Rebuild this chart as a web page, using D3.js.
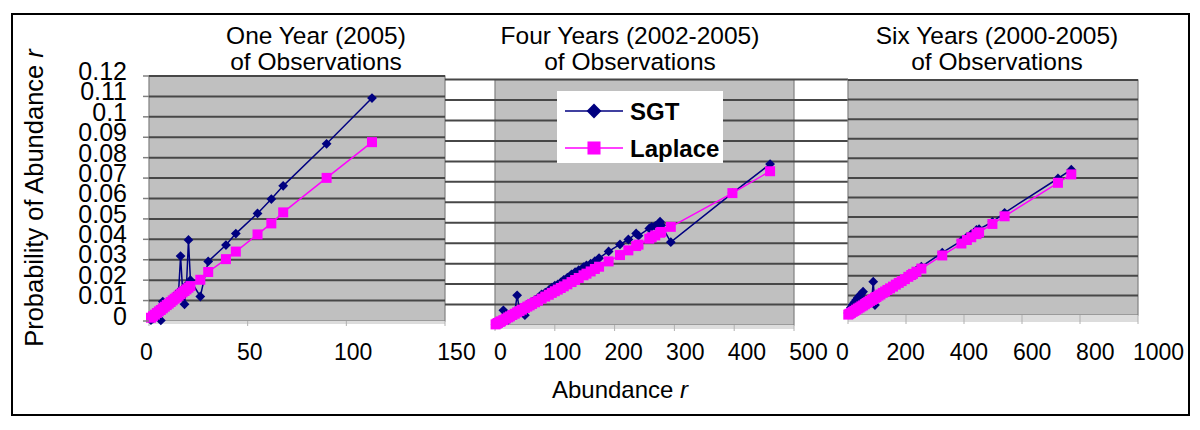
<!DOCTYPE html>
<html><head><meta charset="utf-8">
<script src="https://cdn.jsdelivr.net/npm/d3@7"></script>
<style>
html,body{margin:0;padding:0;background:#fff;}
svg{display:block;font-family:"Liberation Sans",Arial,Helvetica,sans-serif;}
</style></head><body>
<svg id="chart" width="1200" height="430"></svg>
<script>
// ---------------- data ----------------
const panelTitles1 = ["One Year (2005)", "Four Years (2002-2005)", "Six Years (2000-2005)"];
const panelTitles2 = ["of Observations", "of Observations", "of Observations"];
const seriesNames = ["SGT", "Laplace"];
const yAxisTitle = "Probability of Abundance ";
const xAxisTitle = "Abundance ";
const yTickValues = [0, 0.01, 0.02, 0.03, 0.04, 0.05, 0.06, 0.07, 0.08, 0.09, 0.1, 0.11, 0.12];
const yTickLabels = ["0", "0.01", "0.02", "0.03", "0.04", "0.05", "0.06", "0.07", "0.08", "0.09", "0.1", "0.11", "0.12"];
const xTicks1 = [0, 50, 100, 150];
const xTicks2 = [0, 100, 200, 300, 400, 500];
const xTicks3 = [0, 200, 400, 600, 800, 1000];

// Panel 1: one year (2005)
const r1 = [1, 2, 3, 4, 5, 6, 7, 8, 9, 10, 11, 12, 13, 14, 15, 16, 17, 18, 19, 20, 21, 26, 30, 39, 44, 55, 62, 68, 90, 113];
const sgt1 = [0.0004, 0.0012, 0.0021, 0.0030, 0.0042, 0.0003, 0.0095, 0.0068, 0.0080, 0.0090, 0.0103, 0.0113, 0.0122, 0.0130, 0.0142, 0.0318, 0.0155, 0.0082, 0.0175, 0.0397, 0.0200, 0.0120, 0.0292, 0.0372, 0.0428, 0.0527, 0.0597, 0.0662, 0.0868, 0.1092];
const lap1 = [0.0016, 0.0023, 0.0031, 0.0039, 0.0047, 0.0054, 0.0062, 0.0070, 0.0078, 0.0085, 0.0093, 0.0101, 0.0109, 0.0116, 0.0124, 0.0132, 0.0140, 0.0147, 0.0155, 0.0163, 0.0171, 0.0202, 0.0240, 0.0303, 0.0340, 0.0424, 0.0478, 0.0532, 0.0701, 0.0876];

// Panel 2: four years (2002-2005)
const r2 = [1, 3, 5, 8, 10, 14, 18, 22, 25, 29, 33, 37, 41, 45, 50, 54, 58, 62, 67, 72, 78, 84, 90, 95, 100, 105, 110, 115, 121, 128, 134, 140, 148, 153, 160, 167, 174, 190, 209, 223, 236, 240, 258, 262, 268, 276, 278, 294, 397, 460];
const sgt2 = [0.0003, 0.0010, 0.0012, 0.0018, 0.0022, 0.0072, 0.0035, 0.0025, 0.0048, 0.0054, 0.0061, 0.0145, 0.0074, 0.0082, 0.0048, 0.0099, 0.0106, 0.0113, 0.0123, 0.0132, 0.0150, 0.0158, 0.0170, 0.0183, 0.0192, 0.0198, 0.0208, 0.0221, 0.0232, 0.0248, 0.0258, 0.0268, 0.0283, 0.0292, 0.0300, 0.0312, 0.0327, 0.0360, 0.0394, 0.0418, 0.0448, 0.0437, 0.0472, 0.0480, 0.0485, 0.0505, 0.0488, 0.0405, 0.0645, 0.0787];
const lap2 = [0.0003, 0.0007, 0.0010, 0.0015, 0.0018, 0.0024, 0.0031, 0.0037, 0.0042, 0.0049, 0.0055, 0.0062, 0.0068, 0.0075, 0.0083, 0.0090, 0.0096, 0.0103, 0.0111, 0.0119, 0.0129, 0.0139, 0.0148, 0.0157, 0.0165, 0.0173, 0.0181, 0.0189, 0.0199, 0.0210, 0.0220, 0.0230, 0.0243, 0.0251, 0.0262, 0.0274, 0.0285, 0.0311, 0.0342, 0.0365, 0.0386, 0.0393, 0.0422, 0.0429, 0.0438, 0.0451, 0.0455, 0.0480, 0.0645, 0.0752];

// Panel 3: six years (2000-2005)
const r3 = [1, 5, 10, 16, 22, 28, 34, 40, 46, 52, 58, 64, 70, 76, 82, 87, 93, 98, 105, 112, 120, 128, 136, 145, 155, 165, 175, 185, 196, 208, 218, 224, 236, 253, 325, 391, 410, 425, 443, 452, 498, 540, 724, 770];
const sgt3 = [0.0010, 0.0022, 0.0038, 0.0052, 0.0064, 0.0076, 0.0088, 0.0098, 0.0108, 0.0119, 0.0062, 0.0066, 0.0070, 0.0075, 0.0080, 0.0170, 0.0051, 0.0095, 0.0101, 0.0108, 0.0116, 0.0124, 0.0131, 0.0140, 0.0150, 0.0159, 0.0169, 0.0179, 0.0189, 0.0201, 0.0210, 0.0216, 0.0228, 0.0247, 0.0318, 0.0379, 0.0398, 0.0413, 0.0434, 0.0438, 0.0476, 0.0522, 0.0697, 0.0742];
const lap3 = [0.0002, 0.0006, 0.0010, 0.0016, 0.0021, 0.0027, 0.0033, 0.0038, 0.0044, 0.0049, 0.0055, 0.0061, 0.0066, 0.0072, 0.0077, 0.0082, 0.0088, 0.0092, 0.0099, 0.0105, 0.0113, 0.0120, 0.0128, 0.0136, 0.0145, 0.0155, 0.0164, 0.0173, 0.0183, 0.0195, 0.0204, 0.0210, 0.0221, 0.0237, 0.0304, 0.0365, 0.0383, 0.0397, 0.0413, 0.0422, 0.0465, 0.0504, 0.0675, 0.0718];

// ---------------- layout ----------------
const svg = d3.select("#chart");
const NAVY = "#000080", MAG = "#ff00ff";
const GRAY = "#c0c0c0", GRID = "#474747", EDGE = "#808080";

svg.append("rect").attr("x", 0).attr("y", 0).attr("width", 1200).attr("height", 430).attr("fill", "#fff");
svg.append("rect").attr("x", 12).attr("y", 14).attr("width", 1177).attr("height", 401)
  .attr("fill", "none").attr("stroke", "#000").attr("stroke-width", 2);

const panels = [
  { r: r1, sgt: sgt1, lap: lap1, ticks: xTicks1, xd: [0, 150], xr: [149, 445], yr: [321, 76], lr: [146, 456], floor: 3, gx: [149, 445] },
  { r: r2, sgt: sgt2, lap: lap2, ticks: xTicks2, xd: [0, 500], xr: [495, 794], yr: [325, 79.6], lr: [500, 808], floor: 4, gx: [445, 848] },
  { r: r3, sgt: sgt3, lap: lap3, ticks: xTicks3, xd: [0, 1000], xr: [848, 1138], yr: [315, 80], lr: [842, 1158], floor: 7, gx: [848, 1138] }
];
const titleCx = [316, 630, 997];

const diamond = d3.symbol().type(d3.symbolSquare).size(48);
const square = d3.symbol().type(d3.symbolSquare).size(100);

panels.forEach((p, i) => {
  const x = d3.scaleLinear().domain(p.xd).range(p.xr);
  const y = d3.scaleLinear().domain([0, 0.12]).range(p.yr);
  const g = svg.append("g");

  // wall
  g.append("rect").attr("x", p.xr[0]).attr("y", p.yr[1]).attr("width", p.xr[1] - p.xr[0])
    .attr("height", p.yr[0] - p.yr[1]).attr("fill", GRAY).attr("stroke", EDGE).attr("stroke-width", 1.2);
  // floor
  g.append("rect").attr("x", p.xr[0]).attr("y", p.yr[0]).attr("width", p.xr[1] - p.xr[0])
    .attr("height", p.floor).attr("fill", "#dcdcdc");
  g.selectAll("line.ft").data(p.ticks).join("line")
    .attr("x1", d => x(d)).attr("x2", d => x(d))
    .attr("y1", p.yr[0]).attr("y2", p.yr[0] + p.floor + 2)
    .attr("stroke", "#b0b0b0").attr("stroke-width", 1);

  // gridlines
  g.selectAll("line.grid").data(yTickValues.slice(1)).join("line")
    .attr("x1", p.gx[0]).attr("x2", p.gx[1])
    .attr("y1", d => y(d)).attr("y2", d => y(d))
    .attr("stroke", GRID).attr("stroke-width", 2);

  // x axis labels (via D3 axis on a front-edge label scale)
  const xl = d3.scaleLinear().domain(p.xd).range(p.lr);
  const ax = svg.append("g").attr("transform", "translate(0,343)")
    .call(d3.axisBottom(xl).tickValues(p.ticks).tickSize(0).tickPadding(0).tickFormat(d3.format("d")));
  ax.select(".domain").remove();
  ax.selectAll("text").attr("font-size", 23).attr("fill", "#000")
    .attr("font-family", "'Liberation Sans', Arial, sans-serif").attr("dy", "0.72em");

  // series lines
  const pts = (vals) => p.r.map((rv, k) => [rv, vals[k]]);
  const line = d3.line().x(d => x(d[0])).y(d => y(d[1]));
  g.append("path").datum(pts(p.sgt)).attr("d", line).attr("fill", "none").attr("stroke", NAVY).attr("stroke-width", 1.5);
  g.selectAll("path.sgt").data(pts(p.sgt)).join("path").attr("class", "sgt")
    .attr("d", diamond).attr("fill", NAVY)
    .attr("transform", d => `translate(${x(d[0])},${y(d[1])}) rotate(45)`);
  g.append("path").datum(pts(p.lap)).attr("d", line).attr("fill", "none").attr("stroke", MAG).attr("stroke-width", 1.5);
  g.selectAll("path.lap").data(pts(p.lap)).join("path").attr("class", "lap")
    .attr("d", square).attr("fill", MAG)
    .attr("transform", d => `translate(${x(d[0])},${y(d[1])})`);

  // titles
  svg.append("text").attr("x", titleCx[i]).attr("y", 44).attr("text-anchor", "middle")
    .attr("font-size", 24.5).text(panelTitles1[i]);
  svg.append("text").attr("x", titleCx[i]).attr("y", 70).attr("text-anchor", "middle")
    .attr("font-size", 24.5).text(panelTitles2[i]);
});

// left ticks of first wall
const yLeft = d3.scaleLinear().domain([0, 0.12]).range([321, 76]);
svg.selectAll("line.lt").data(yTickValues).join("line")
  .attr("x1", 143).attr("x2", 149).attr("y1", d => yLeft(d)).attr("y2", d => yLeft(d))
  .attr("stroke", EDGE).attr("stroke-width", 1.5);

// y axis labels
const yl = d3.scaleLinear().domain([0, 0.12]).range([316, 71.5]);
const ay = svg.append("g").attr("transform", "translate(127,0)")
  .call(d3.axisLeft(yl).tickValues(yTickValues).tickSize(0).tickPadding(0)
    .tickFormat((d, i) => yTickLabels[i]));
ay.select(".domain").remove();
ay.selectAll("text").attr("font-size", 25).attr("fill", "#000")
  .attr("font-family", "'Liberation Sans', Arial, sans-serif");

// axis titles
const yt = svg.append("text").attr("transform", "translate(43,198) rotate(-90)")
  .attr("text-anchor", "middle").attr("font-size", 25.5);
yt.append("tspan").text(yAxisTitle);
yt.append("tspan").attr("font-style", "italic").text("r");
const xt = svg.append("text").attr("x", 620).attr("y", 398).attr("text-anchor", "middle").attr("font-size", 24);
xt.append("tspan").text(xAxisTitle);
xt.append("tspan").attr("font-style", "italic").text("r");

// legend
const lg = svg.append("g");
lg.append("rect").attr("x", 557).attr("y", 91).attr("width", 166).attr("height", 72).attr("fill", "#fff");
const legendRows = [
  { name: seriesNames[0], color: NAVY, sym: d3.symbol().type(d3.symbolSquare).size(110), rot: 45, y: 111 },
  { name: seriesNames[1], color: MAG, sym: d3.symbol().type(d3.symbolSquare).size(170), rot: 0, y: 148 }
];
legendRows.forEach(row => {
  lg.append("line").attr("x1", 565).attr("x2", 623).attr("y1", row.y).attr("y2", row.y)
    .attr("stroke", row.color).attr("stroke-width", 1.5);
  lg.append("path").attr("d", row.sym).attr("fill", row.color)
    .attr("transform", `translate(594,${row.y}) rotate(${row.rot})`);
  lg.append("text").attr("x", 630).attr("y", row.y + 9).attr("font-size", 24).attr("font-weight", "bold")
    .text(row.name);
});
</script>
</body></html>
